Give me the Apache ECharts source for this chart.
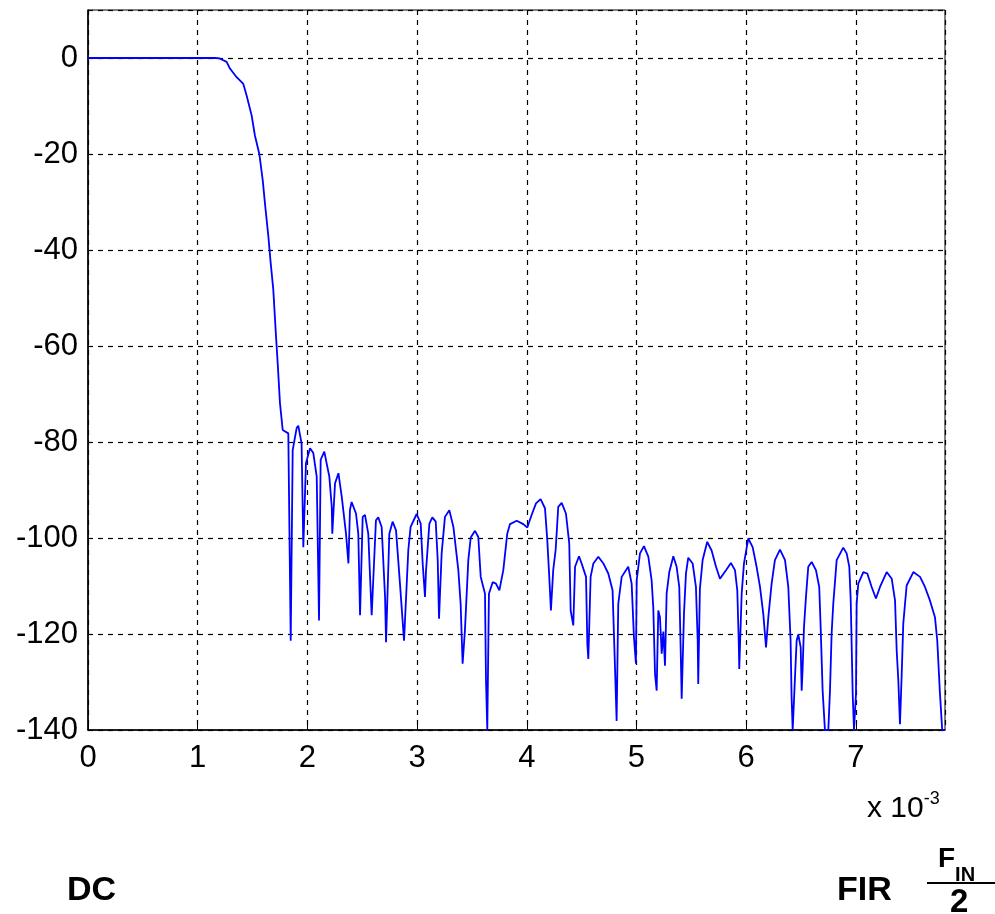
<!DOCTYPE html>
<html>
<head>
<meta charset="utf-8">
<script src="https://cdn.jsdelivr.net/npm/echarts@6/dist/echarts.min.js"></script>
<style>
html,body{margin:0;padding:0;background:#fff;}
#chart{width:995px;height:914px;}
</style>
</head>
<body>
<div id="chart"></div>
<script>
// frequency in units of 1e-3 (normalized), magnitude in dB
const freq = [0,1.16,1.20,1.264,1.294,1.355,1.416,1.446,1.492,1.522,1.562,1.593,1.614,1.644,1.665,1.689,1.714,1.729,1.750,1.775,1.826,1.848,1.866,1.902,1.917,1.947,1.963,1.987,2.024,2.054,2.085,2.106,2.121,2.154,2.200,2.222,2.227,2.252,2.283,2.313,2.352,2.374,2.388,2.403,2.443,2.464,2.480,2.504,2.525,2.555,2.586,2.625,2.646,2.677,2.708,2.717,2.747,2.777,2.808,2.844,2.881,2.920,2.941,2.996,3.033,3.051,3.072,3.081,3.112,3.139,3.170,3.188,3.200,3.209,3.224,3.254,3.294,3.331,3.376,3.397,3.415,3.436,3.467,3.489,3.528,3.558,3.580,3.619,3.628,3.640,3.655,3.689,3.719,3.750,3.786,3.822,3.847,3.908,3.968,4.005,4.044,4.084,4.126,4.166,4.187,4.205,4.220,4.241,4.263,4.287,4.318,4.357,4.387,4.400,4.424,4.440,4.476,4.500,4.540,4.552,4.561,4.582,4.607,4.652,4.698,4.743,4.782,4.804,4.819,4.834,4.865,4.925,4.956,4.977,4.995,5.002,5.032,5.068,5.108,5.138,5.153,5.169,5.184,5.199,5.214,5.230,5.245,5.260,5.275,5.299,5.336,5.366,5.390,5.403,5.412,5.433,5.451,5.472,5.512,5.542,5.558,5.563,5.578,5.603,5.645,5.685,5.725,5.761,5.816,5.861,5.898,5.919,5.932,5.937,5.959,5.980,6.019,6.059,6.095,6.126,6.156,6.181,6.202,6.232,6.262,6.308,6.354,6.384,6.405,6.414,6.424,6.445,6.460,6.475,6.497,6.506,6.515,6.527,6.545,6.566,6.597,6.636,6.666,6.679,6.697,6.718,6.749,6.764,6.779,6.794,6.825,6.885,6.916,6.940,6.953,6.971,6.983,7.001,7.007,7.022,7.068,7.104,7.144,7.183,7.220,7.281,7.327,7.357,7.372,7.387,7.402,7.417,7.432,7.448,7.463,7.524,7.585,7.630,7.675,7.721,7.742,7.766,7.787,7.8125];
const magDb = [0,0,-0.1,-0.8,-2.2,-4.0,-5.4,-7.8,-12.0,-16.2,-20.0,-25.5,-30.5,-37.1,-42.6,-48.2,-58.0,-63.5,-71.9,-77.5,-78.2,-121.4,-81.7,-77.1,-76.6,-80.3,-101.9,-84.4,-81.3,-82.3,-87.2,-117.2,-83.7,-82.0,-87.2,-93.5,-99.1,-88.6,-86.5,-91.4,-99.1,-105.3,-94.2,-92.5,-94.9,-99.1,-116.1,-95.6,-95.2,-99.1,-116.1,-96.3,-95.7,-97.7,-112.3,-121.7,-99.1,-96.6,-98.4,-109.5,-121.4,-102.5,-97.7,-95.0,-97.0,-105.3,-112.3,-107.0,-97.0,-95.7,-96.6,-104.6,-116.8,-111.6,-103.2,-95.6,-94.2,-97.7,-106.7,-113.7,-126.2,-119.3,-104.6,-99.9,-98.5,-99.8,-108.1,-111.6,-129.4,-140,-111.6,-109.2,-109.5,-110.9,-106.7,-99.1,-97.1,-96.4,-97.1,-97.8,-95.2,-92.8,-91.9,-93.8,-100.5,-108.1,-115.1,-106.7,-102.5,-93.5,-92.7,-94.9,-101.1,-115.1,-118.2,-106.0,-103.8,-105.3,-108.1,-122.0,-125.2,-108.1,-105.3,-103.9,-105.3,-107.4,-110.9,-126.9,-138.1,-113.7,-108.1,-106.0,-109.5,-120.7,-126.2,-108.8,-103.2,-101.7,-103.9,-108.8,-114.4,-128.3,-131.8,-115.1,-116.5,-124.1,-119.5,-126.6,-111.6,-107.1,-103.8,-106.0,-110.2,-123.4,-133.5,-115.8,-107.4,-104.1,-105.3,-110.2,-121.4,-130.4,-110.6,-104.6,-100.8,-102.6,-106.0,-108.5,-106.7,-105.2,-106.7,-110.9,-121.4,-127.3,-111.6,-105.3,-100.1,-101.9,-106.0,-110.2,-115.8,-122.8,-116.5,-109.5,-104.6,-102.4,-104.6,-110.2,-121.4,-133.2,-140,-129.0,-121.4,-120.1,-122.8,-131.8,-127.0,-118.6,-112.3,-106.0,-105.0,-106.7,-110.2,-118.6,-131.8,-140,-140,-131.8,-119.9,-113.7,-104.6,-102.0,-103.2,-106.0,-113.0,-132.5,-140,-132.5,-113.7,-109.5,-107.1,-107.4,-110.2,-112.6,-110.2,-107.1,-108.5,-113.0,-123.4,-129.7,-138.8,-129.0,-117.9,-113.7,-109.9,-107.1,-108.1,-110.2,-113.0,-116.5,-121.4,-132.2,-140,-140];

const xMin = 0, xMax = 7.8125, xStep = 1;
const yMin = -140, yMax = 10, yStep = 20;
const exponentLabel = 'x 10';
const exponentSup = '-3';
const leftLabel = 'DC';
const rightLabel = 'FIR';
const fracTop = 'F';
const fracSub = 'IN';
const fracBottom = '2';

const points = freq.map((f, i) => [f, magDb[i]]);

const chart = echarts.init(document.getElementById('chart'), null, {renderer: 'canvas'});
const fontFam = 'Arial, "Liberation Sans", Helvetica, sans-serif';
const option = {
  animation: false,
  backgroundColor: '#ffffff',
  grid: {left: 88, right: 50, top: 10, bottom: 184, show: true, borderColor: '#000', borderWidth: 1, backgroundColor: 'transparent'},
  xAxis: {
    type: 'value', min: xMin, max: xMax, interval: xStep,
    axisLine: {show: true, onZero: false, lineStyle: {color: '#000', width: 1.5}},
    axisTick: {show: true, inside: true, length: 5, lineStyle: {color: '#000'}},
    axisLabel: {color: '#000', fontSize: 31, fontFamily: fontFam, margin: 13, showMaxLabel: false},
    splitLine: {show: true, lineStyle: {color: '#000', type: [5, 5], width: 1.2}}
  },
  yAxis: {
    type: 'value', min: yMin, max: yMax, interval: yStep,
    axisLine: {show: true, onZero: false, lineStyle: {color: '#000', width: 1.5}},
    axisTick: {show: true, inside: true, length: 5, lineStyle: {color: '#000'}},
    axisLabel: {color: '#000', fontSize: 31, fontFamily: fontFam, margin: 10, showMaxLabel: false},
    splitLine: {show: true, lineStyle: {color: '#000', type: [5, 5], width: 1.2}}
  },
  series: [{
    type: 'line', data: points, showSymbol: false, symbol: 'none',
    lineStyle: {color: '#0000ff', width: 1.8}, clip: true
  }],
  graphic: [
    {type: 'text', left: 867, top: 790, style: {
      text: '{a|' + exponentLabel + '}{b|' + exponentSup + '}',
      rich: {a: {fontSize: 30, fontFamily: fontFam, fill: '#000', verticalAlign: 'bottom'},
             b: {fontSize: 18, fontFamily: fontFam, fill: '#000', verticalAlign: 'top', padding: [0,0,16,0]}}
    }},
    {type: 'text', left: 67, top: 874, style: {text: leftLabel, fontSize: 34, fontWeight: 'bold', fontFamily: fontFam, fill: '#000'}},
    {type: 'text', left: 837, top: 874, style: {text: rightLabel, fontSize: 34, fontWeight: 'bold', fontFamily: fontFam, fill: '#000'}},
    {type: 'text', left: 938, top: 845, style: {
      text: '{f|' + fracTop + '}{s|' + fracSub + '}',
      rich: {f: {fontSize: 28, fontWeight: 'bold', fontFamily: fontFam, fill: '#000', verticalAlign: 'top'},
             s: {fontSize: 20, fontWeight: 'bold', fontFamily: fontFam, fill: '#000', verticalAlign: 'bottom', padding: [20,0,0,0]}}
    }},
    {type: 'line', shape: {x1: 927, y1: 883, x2: 995, y2: 883}, style: {stroke: '#000', lineWidth: 2}},
    {type: 'text', left: 950, top: 886, style: {text: fracBottom, fontSize: 33, fontWeight: 'bold', fontFamily: fontFam, fill: '#000'}}
  ]
};
chart.setOption(option);
</script>
</body>
</html>
